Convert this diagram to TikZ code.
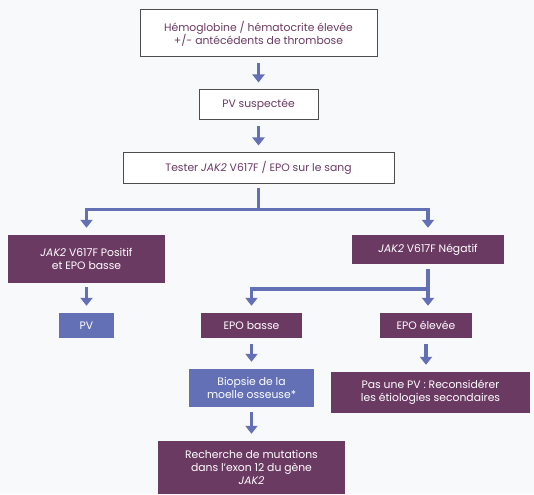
\documentclass[tikz,border=0pt]{standalone}
\usepackage{fontspec}
\setmainfont{Poppins}
\usetikzlibrary{arrows.meta}
\definecolor{plum}{HTML}{6B3A63}
\definecolor{lilac}{HTML}{6470B6}
\definecolor{edgegrey}{HTML}{4D4D4D}
\definecolor{paper}{HTML}{F8F9FA}
\begin{document}
\begin{tikzpicture}[
  x=1pt, y=-1pt,
  every node/.style={font=\fontsize{10.8}{13.3}\selectfont, align=center, inner sep=0pt},
  plainbox/.style={draw=edgegrey, line width=1pt, fill=white, text=plum},
  darkbox/.style={fill=plum, text=white},
  bluebox/.style={fill=lilac, text=white},
  flow/.style={draw=lilac, line width=3.6pt,
    -{Triangle[width=12pt,length=8pt]}, shorten >=7pt}
]
  \fill[paper] (0,0) rectangle (534,494);
  \useasboundingbox (0,0) rectangle (534,494);

  \node[plainbox, minimum width=237pt, minimum height=47pt] (hemo) at (258.5,33.5)
    {Hémoglobine / hématocrite élevée\\+/- antécédents de thrombose};
  \node[plainbox, minimum width=119pt, minimum height=30pt] (suspect) at (258.5,105)
    {PV suspectée};
  \node[plainbox, minimum width=271pt, minimum height=30pt] (tester) at (258.5,168)
    {Tester \textit{JAK2} V617F / EPO sur le sang};
  \node[darkbox, minimum width=157pt, minimum height=48pt] (pos) at (86.5,259)
    {\textit{JAK2} V617F Positif\\et EPO basse};
  \node[darkbox, minimum width=152pt, minimum height=29pt] (neg) at (428,249.5)
    {\textit{JAK2} V617F Négatif};
  \node[bluebox, minimum width=55pt, minimum height=25pt] (pv) at (86.5,325.5) {PV};
  \node[darkbox, minimum width=101pt, minimum height=25pt] (epobasse) at (251.5,325.5)
    {EPO basse};
  \node[darkbox, minimum width=92pt, minimum height=25pt] (epohaute) at (426,325.5)
    {EPO élevée};
  \node[bluebox, minimum width=125pt, minimum height=38pt] (biopsie) at (251.5,388)
    {Biopsie de la\\moelle osseuse*};
  \node[darkbox, minimum width=199pt, minimum height=41pt] (paspv) at (430.5,392.5)
    {Pas une PV : Reconsidérer\\les étiologies secondaires};
  \node[darkbox, minimum width=187pt, minimum height=53pt] (exon) at (251.5,467.5)
    {Recherche de mutations\\dans l’exon 12 du gène\\\textit{JAK2}};

  \draw[flow, shorten <=6pt] (hemo) -- (suspect);
  \draw[flow, shorten <=6pt] (suspect) -- (tester);
  \draw[flow, shorten <=4pt] (tester.south) -- ++(0,26) -| (pos.north);
  \draw[flow, shorten <=4pt] (tester.south) -- ++(0,26) -| (neg.north);
  \draw[flow, shorten <=4pt] (pos) -- (pv);
  \draw[flow, shorten <=5pt] (neg.south) -- ++(0,25) -| (epobasse.north);
  \draw[flow, shorten <=5pt] (neg.south) -- (neg.south |- epohaute.north);
  \draw[flow, shorten <=6pt] (epobasse) -- (biopsie);
  \draw[flow, shorten <=6pt] (epohaute.south) -- (epohaute.south |- paspv.north);
  \draw[flow, shorten <=5pt] (biopsie) -- (exon);
\end{tikzpicture}
\end{document}
